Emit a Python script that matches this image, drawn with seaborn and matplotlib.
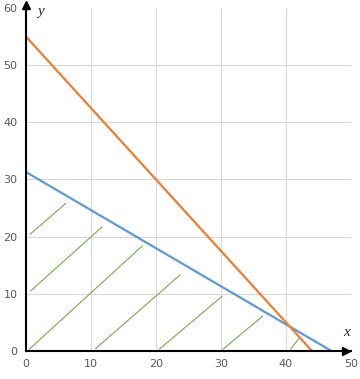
import pandas as pd
import matplotlib
matplotlib.use("Agg")
import matplotlib.pyplot as plt
import seaborn as sns

# data garis batas
blue_x = [0, 47]
blue_y = [31.3, 0]
orange_x = [0, 44]
orange_y = [55, 0]

# segmen arsiran (awal dan akhir)
hatch_x0 = [0.6, 0.7, 0.5, 10.7, 20.5, 30.3, 40.7]
hatch_y0 = [20.4, 10.5, 0.3, 0.4, 0.3, 0.3, 0.3]
hatch_x1 = [6.1, 11.7, 17.9, 23.7, 30.2, 36.4, 42.0]
hatch_y1 = [25.8, 21.7, 18.4, 13.3, 9.6, 6.1, 2.2]

ticks_x = [0, 10, 20, 30, 40, 50]
ticks_y = [0, 10, 20, 30, 40, 50, 60]

sns.set_style("white")

fig = plt.figure(figsize=(3.6, 3.79), dpi=100)
ax = fig.add_axes([0.0722, 0.0739, 0.9028, 0.905])

rows = []
for i in range(len(hatch_x0)):
    rows.append({"seg": i, "x": hatch_x0[i], "y": hatch_y0[i]})
    rows.append({"seg": i, "x": hatch_x1[i], "y": hatch_y1[i]})
dh = pd.DataFrame(rows)
sns.lineplot(data=dh, x="x", y="y", units="seg", estimator=None, sort=False,
             color="#70AD47", linewidth=0.8, ax=ax)

sns.lineplot(x=blue_x, y=blue_y, color="#5B9BD5", linewidth=1.6, ax=ax)
sns.lineplot(x=orange_x, y=orange_y, color="#ED7D31", linewidth=1.6, ax=ax)

ax.set_xlim(0, 50)
ax.set_ylim(0, 60)
ax.set_xticks(ticks_x)
ax.set_yticks(ticks_y)
ax.grid(True, color="#D9D9D9", linewidth=0.8)
ax.yaxis.get_gridlines()[-1].set_visible(False)
ax.set_axisbelow(True)
ax.tick_params(length=0, labelsize=8, labelcolor="#595959", pad=6)
ax.set_xlabel("")
ax.set_ylabel("")

for s in ["top", "right"]:
    ax.spines[s].set_visible(False)
for s in ["left", "bottom"]:
    ax.spines[s].set_color("black")
    ax.spines[s].set_linewidth(1.5)
    ax.spines[s].set_zorder(5)

# panah sumbu
ax.plot(0, 1.01, "^", color="black", markersize=6, transform=ax.transAxes, clip_on=False, zorder=6)
ax.plot(0.985, 0, ">", color="black", markersize=6, transform=ax.transAxes, clip_on=False, zorder=6)

ax.text(0.045, 0.99, "y", transform=ax.transAxes, fontsize=11, style="italic",
        family="Liberation Serif", va="center", ha="center")
ax.text(0.985, 0.055, "x", transform=ax.transAxes, fontsize=11, style="italic",
        family="Liberation Serif", va="center", ha="center")

plt.savefig("out.png", dpi=100)
